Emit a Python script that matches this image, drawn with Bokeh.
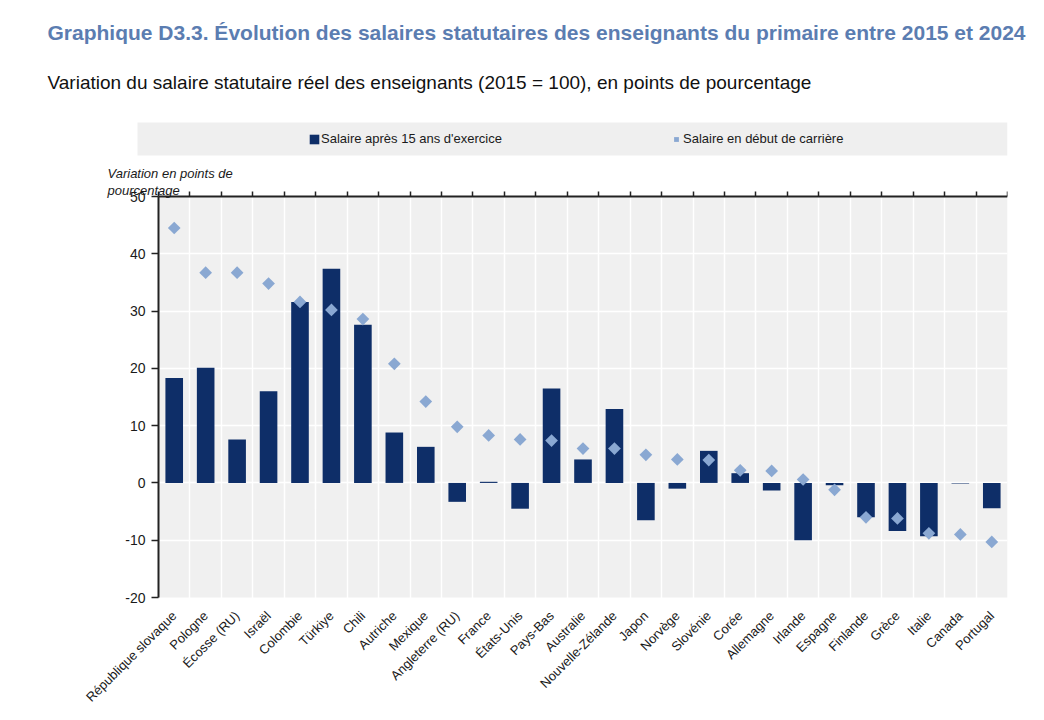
from math import pi

from bokeh.plotting import figure
from bokeh.models import (ColumnDataSource, Range1d, FixedTicker, LinearAxis, Legend,
                          LegendItem, BoxAnnotation, Label, Title)
from bokeh.core.properties import value
from bokeh.embed import file_html
from bokeh.resources import INLINE

# ---------------- data ----------------
countries = ["République slovaque", "Pologne", "Écosse (RU)", "Israël", "Colombie", "Türkiye",
             "Chili", "Autriche", "Mexique", "Angleterre (RU)", "France", "États-Unis",
             "Pays-Bas", "Australie", "Nouvelle-Zélande", "Japon", "Norvège", "Slovénie",
             "Corée", "Allemagne", "Irlande", "Espagne", "Finlande", "Grèce", "Italie",
             "Canada", "Portugal"]
after_15_years = [18.3, 20.1, 7.6, 16.0, 31.6, 37.4, 27.6, 8.8, 6.3, -3.3, 0.2, -4.5,
                  16.5, 4.1, 12.9, -6.5, -1.0, 5.6, 1.7, -1.3, -10.0, -0.4, -6.0, -8.4,
                  -9.3, -0.1, -4.4]
career_start = [44.5, 36.7, 36.7, 34.8, 31.6, 30.2, 28.6, 20.8, 14.2, 9.8, 8.3, 7.6,
                7.4, 6.0, 6.0, 4.9, 4.1, 4.0, 2.2, 2.1, 0.6, -1.2, -6.0, -6.2,
                -8.8, -9.0, -10.3]
y_ticks = [-20, -10, 0, 10, 20, 30, 40, 50]
y_tick_labels = ["-20", "-10", "0", "10", "20", "30", "40", "50"]
title_text = "Graphique D3.3. Évolution des salaires statutaires des enseignants du primaire entre 2015 et 2024"
subtitle_text = "Variation du salaire statutaire réel des enseignants (2015 = 100), en points de pourcentage"
y_label_text = "Variation en points de\npourcentage"
legend_labels = ["Salaire après 15 ans d'exercice", "Salaire en début de carrière"]

# ---------------- style ----------------
NAVY = "#0e2e68"
LIGHT = "#8aa8d2"
TITLE_BLUE = "#5b7db1"
TEXT = "#1a1a1a"
AXIS = "#222222"
PLOT_BG = "#f0f0f0"
FONT = "Liberation Sans"

n = len(countries)
positions = list(range(n))
boundaries = [i - 0.5 for i in range(n + 1)]
y_min, y_max = y_ticks[0], y_ticks[-1]

# The frame is a bit larger than the grey plotting area so that the legend band,
# the axis caption and the lowest tick label (outside the grey area) are not clipped.
AREA_PX_W, AREA_PX_H = 849, 401          # grey plotting area in pixels
EXTRA_LEFT_PX, EXTRA_TOP_PX, EXTRA_BOTTOM_PX = 58, 78, 9
x_start = -0.5 - EXTRA_LEFT_PX * n / AREA_PX_W
y_end = y_max + EXTRA_TOP_PX * (y_max - y_min) / AREA_PX_H
y_start = y_min - EXTRA_BOTTOM_PX * (y_max - y_min) / AREA_PX_H

src = ColumnDataSource(dict(x=positions, country=countries,
                            after=after_15_years, start=career_start))

p = figure(width=1036, height=712,
           x_range=Range1d(x_start, n - 0.5), y_range=Range1d(y_start, y_end),
           output_backend="svg", toolbar_location=None,
           min_border_left=100, min_border_right=29, min_border_top=118,
           min_border_bottom=115 - EXTRA_BOTTOM_PX,
           background_fill_color="white", border_fill_color="white",
           outline_line_color=None)

# grey plotting area (drawn beneath the grid)
area = BoxAnnotation(left=-0.5, right=n - 0.5, bottom=y_min, top=y_max,
                     fill_color=PLOT_BG, fill_alpha=1.0, line_color=None, level="image")
p.add_layout(area)

bars = p.vbar(x="x", top="after", bottom=0, width=0.56, source=src,
              fill_color=NAVY, line_color=None)
diamonds = p.scatter(x="x", y="start", source=src, marker="square", angle=pi / 4, size=9,
                     fill_color=LIGHT, line_color=None)

# bottom axis: country names
xa = p.xaxis[0]
xa.ticker = FixedTicker(ticks=positions)
xa.major_label_overrides = {i: c for i, c in zip(positions, countries)}
xa.major_label_orientation = pi / 4
xa.axis_line_color = None
xa.major_tick_line_color = None
xa.minor_tick_line_color = None
xa.major_label_text_font = FONT
xa.major_label_text_font_size = "13px"
xa.major_label_text_color = TEXT
xa.major_label_standoff = 1

# left axis, drawn at the left edge of the grey area
ya = p.yaxis[0]
ya.ticker = FixedTicker(ticks=y_ticks)
ya.major_label_overrides = {t: s for t, s in zip(y_ticks, y_tick_labels)}
ya.fixed_location = -0.5
ya.bounds = (y_min, y_max)
ya.axis_line_width = 2
ya.axis_line_color = AXIS
ya.major_tick_out = 7
ya.major_tick_in = 0
ya.major_tick_line_color = AXIS
ya.major_tick_line_width = 1.5
ya.minor_tick_line_color = None
ya.major_label_text_font = FONT
ya.major_label_text_font_size = "14px"
ya.major_label_text_color = TEXT
ya.major_label_standoff = 6

# grids (white on the grey area)
p.xgrid.ticker = FixedTicker(ticks=boundaries)
p.xgrid.grid_line_color = "white"
p.xgrid.grid_line_width = 1.5
p.ygrid.ticker = FixedTicker(ticks=y_ticks[1:])
p.ygrid.grid_line_color = "white"
p.ygrid.grid_line_width = 1.5

# top axis along y = 50, ticks between categories
top_axis = LinearAxis(ticker=FixedTicker(ticks=boundaries), fixed_location=y_max,
                      bounds=(-0.5, n - 0.5),
                      axis_line_width=2, axis_line_color=AXIS,
                      major_tick_out=5, major_tick_in=0, major_tick_line_color=AXIS,
                      major_tick_line_width=1.5, minor_tick_line_color=None,
                      major_label_text_color=None, major_label_text_font_size="1px",
                      major_label_standoff=0)
p.add_layout(top_axis, "above")

# legend band + legend (positions in pixels from the frame's bottom-left corner)
frame_bottom_to_area = EXTRA_BOTTOM_PX
band = BoxAnnotation(left=37, right=907,
                     bottom=442 + frame_bottom_to_area, top=475 + frame_bottom_to_area,
                     left_units="screen", right_units="screen",
                     bottom_units="screen", top_units="screen",
                     fill_color="#efefef", fill_alpha=1.0, line_color=None)
p.add_layout(band)

legend = Legend(items=[LegendItem(label=value(legend_labels[0]), renderers=[bars]),
                       LegendItem(label=value(legend_labels[1]), renderers=[diamonds])],
                orientation="horizontal", location=(208, 442 + frame_bottom_to_area),
                padding=0, margin=0, spacing=168,
                glyph_width=12, glyph_height=12, label_standoff=1,
                label_width=0, label_height=33,
                label_text_font=FONT, label_text_font_size="13px", label_text_color=TEXT,
                background_fill_alpha=0, border_line_color=None)
p.add_layout(legend)

y_caption = Label(x=7, y=432 + frame_bottom_to_area, x_units="screen", y_units="screen",
                  text=y_label_text,
                  text_font=FONT, text_font_style="italic", text_font_size="13px",
                  text_line_height=1.15, text_color=TEXT,
                  text_baseline="top", text_align="left")
p.add_layout(y_caption)

# titles
subtitle = Title(text=subtitle_text, align="left", offset=-53, vertical_align="bottom",
                 standoff=52, text_font=FONT, text_font_size="19px",
                 text_font_style="normal", text_color="#111111")
p.add_layout(subtitle, "above")
title = Title(text=title_text, align="left", offset=-53, vertical_align="bottom",
              standoff=0, text_font=FONT, text_font_size="21px",
              text_font_style="bold", text_color=TITLE_BLUE)
p.add_layout(title, "above")

open("out.html", "w").write(file_html(p, INLINE, title="Graphique D3.3"))
